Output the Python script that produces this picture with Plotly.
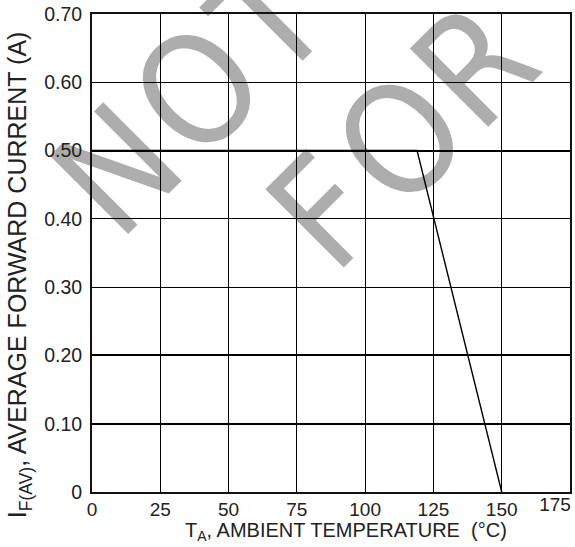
import plotly.graph_objects as go

# Data
temp_c = [0, 119, 150]
current_a = [0.50, 0.50, 0.0]

x_ticks = [0, 25, 50, 75, 100, 125, 150]
x_tick_labels = ["0", "25", "50", "75", "100", "125", "150"]
x_edge_tick = [175]
x_edge_label = ["175"]
y_ticks = [0, 0.1, 0.2, 0.3, 0.4, 0.5, 0.6, 0.7]
y_tick_labels = ["0", "0.10", "0.20", "0.30", "0.40", "0.50", "0.60", "0.70"]
heavy_grid = [0.1, 0.2, 0.5]

x_title = "T<sub>A</sub>, AMBIENT TEMPERATURE\u00a0\u00a0(°C)"
y_title = "I<sub>F(AV)</sub>, AVERAGE FORWARD CURRENT (A)"
watermark_letters = ["N", "O", "T", "F", "O", "R"]

FONT = "Liberation Sans, Arial, sans-serif"
WM_FONT = "Liberation Sans Narrow, DejaVu Sans Condensed, Liberation Sans"
TXT = "#222222"

L, T, W, H = 92, 12, 480, 480


def px2paper(cx, cy):
    return (cx - L) / W, (T + H - cy) / H


fig = go.Figure()
fig.add_trace(go.Scatter(x=temp_c, y=current_a, mode="lines",
                         line=dict(color="#000000", width=1.4),
                         hoverinfo="skip", showlegend=False))
fig.add_trace(go.Scatter(x=[None], y=[None], xaxis="x2", yaxis="y2", mode="lines",
                         hoverinfo="skip", showlegend=False))

# watermark letter centres (pixels)
wm_pos = [(110, 161), (191, 81), (263, 9), (318, 203), (395, 131), (469, 56)]
for ch, (cx, cy) in zip(watermark_letters, wm_pos):
    px, py = px2paper(cx, cy)
    fig.add_shape(type="rect", xref="paper", yref="paper",
                  x0=px - 0.005, x1=px + 0.005, y0=py - 0.005, y1=py + 0.005,
                  line=dict(width=0), fillcolor="rgba(0,0,0,0)", layer="below",
                  label=dict(text=ch, textangle=-45, textposition="middle center",
                             font=dict(family=WM_FONT, size=152, color="#adadad")))

# axis titles (placed as annotations to match the reference offsets)
xt_x, xt_y = px2paper(347, 532)
fig.add_annotation(text=x_title, xref="paper", yref="paper", x=xt_x, y=xt_y,
                   xanchor="center", yanchor="middle", showarrow=False,
                   font=dict(family=FONT, size=20, color=TXT))
yt_x, yt_y = px2paper(19, 274)
fig.add_annotation(text=y_title, xref="paper", yref="paper", x=yt_x, y=yt_y,
                   xanchor="center", yanchor="middle", showarrow=False, textangle=-90,
                   font=dict(family=FONT, size=25, color=TXT))

fig.update_layout(
    width=575, height=547,
    margin=dict(l=92, r=3, t=12, b=55),
    paper_bgcolor="white", plot_bgcolor="rgba(0,0,0,0)",
    font=dict(family=FONT, size=19, color=TXT),
    xaxis=dict(range=[0, 175], tickvals=x_ticks, ticktext=x_tick_labels,
               showgrid=True, gridcolor="#000000", gridwidth=1,
               showline=True, linecolor="#111111", linewidth=2, mirror=True,
               ticks="", zeroline=False, ticklabelstandoff=-1,
               tickfont=dict(size=19, color=TXT)),
    xaxis2=dict(range=[0, 175], overlaying="x", side="bottom",
                tickvals=x_edge_tick, ticktext=x_edge_label,
                showgrid=True, gridcolor="#000000", gridwidth=1,
                ticks="", zeroline=False, showline=False,
                ticklabelshift=-15, ticklabelstandoff=-1,
                tickfont=dict(size=19, color=TXT)),
    yaxis=dict(range=[0, 0.7], tickvals=y_ticks, ticktext=y_tick_labels,
               showgrid=True, gridcolor="#000000", gridwidth=1,
               showline=True, linecolor="#111111", linewidth=2, mirror=True,
               ticks="", zeroline=False, ticklabelstandoff=4,
               tickfont=dict(size=19.5, color=TXT)),
    yaxis2=dict(range=[0, 0.7], overlaying="y", side="left", tickvals=heavy_grid,
                showticklabels=False, showgrid=True, gridcolor="#000000", gridwidth=2,
                ticks="", zeroline=False, showline=False),
)

fig.write_html("out.html")
